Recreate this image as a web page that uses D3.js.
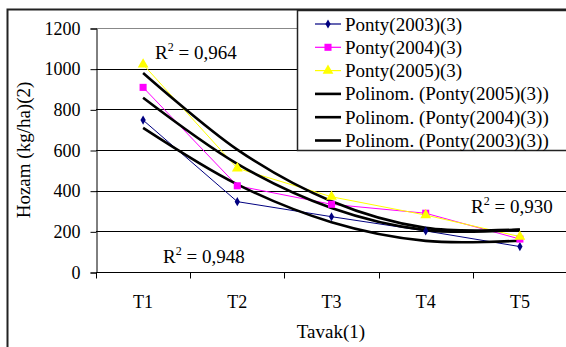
<!DOCTYPE html>
<html>
<head>
<meta charset="utf-8">
<script src="https://cdn.jsdelivr.net/npm/d3@7"></script>
<style>
  body { margin: 0; background: #fff; }
  svg { display: block; font-family: "Liberation Serif", "Times New Roman", serif; }
</style>
</head>
<body>
<svg id="chart"></svg>
<script>
let categories = ['T1', 'T2', 'T3', 'T4', 'T5'];
let yTicks = [0, 200, 400, 600, 800, 1000, 1200];

let ponty2003 = [747, 346, 272, 202, 125];
let ponty2004 = [908, 424, 333, 289, 162];
let ponty2005 = [1021, 510, 370, 280, 174];

// trendline values read at each category
let trend2005 = [979, 602, 348, 217, 209];
let trend2004 = [857, 532, 315, 206, 207];
let trend2003 = [709, 431, 245, 153, 154];

let legendNames = ['Ponty(2003)(3)', 'Ponty(2004)(3)', 'Ponty(2005)(3)',
    'Polinom. (Ponty(2005)(3))', 'Polinom. (Ponty(2004)(3))', 'Polinom. (Ponty(2003)(3))'];

let width = 566;
let height = 347;
let plotLeft = 96, plotRight = 567, plotTop = 28, plotBottom = 272;

let svg = d3.select('#chart').attr('width', width).attr('height', height);

let xScale = d3.scaleBand().domain(categories).range([plotLeft, plotRight]);
let yScale = d3.scaleLinear().domain([0, 1200]).range([plotBottom, plotTop]);
let cx = (c) => xScale(c) + xScale.bandwidth() / 2;

// outer chart border
svg.append('path')
    .attr('d', 'M7.5,' + height + 'V9.5H' + (width + 5))
    .attr('fill', 'none').attr('stroke', '#222').attr('stroke-width', 2);

// gridlines
svg.append('g').selectAll('line')
    .data(yTicks.filter(d => d > 0))
    .enter().append('line')
    .attr('x1', plotLeft).attr('x2', plotRight)
    .attr('y1', d => Math.round(yScale(d)) + 0.5)
    .attr('y2', d => Math.round(yScale(d)) + 0.5)
    .attr('stroke', d => d == 1200 ? '#888' : '#000')
    .attr('stroke-width', 1);

// y axis
let yAxis = d3.axisLeft(yScale).tickValues(yTicks).tickFormat(d3.format('d'))
    .tickSize(6).tickPadding(10);
let gy = svg.append('g')
    .attr('transform', 'translate(' + (plotLeft + 0.5) + ',0.5)')
    .call(yAxis);
gy.attr('font-family', null).attr('font-size', null);
gy.selectAll('text').attr('font-size', 18).attr('fill', '#000');
gy.selectAll('line, path').attr('stroke', '#000');

// x axis
let gx = svg.append('g')
    .attr('transform', 'translate(0,' + (plotBottom + 0.5) + ')');
gx.append('line').attr('x1', plotLeft).attr('x2', plotRight).attr('stroke', '#000');
gx.selectAll('.tk')
    .data(categories.concat(['end']))
    .enter().append('line')
    .attr('x1', (d, i) => Math.round(plotLeft + i * xScale.bandwidth()) + 0.5)
    .attr('x2', (d, i) => Math.round(plotLeft + i * xScale.bandwidth()) + 0.5)
    .attr('y1', 0).attr('y2', 6).attr('stroke', '#000');
gx.selectAll('text')
    .data(categories)
    .enter().append('text')
    .attr('x', d => cx(d)).attr('y', 35)
    .attr('text-anchor', 'middle').attr('font-size', 18)
    .text(d => d);

// axis titles
svg.append('text')
    .attr('x', 331).attr('y', 338)
    .attr('text-anchor', 'middle').attr('font-size', 19)
    .text('Tavak(1)');
svg.append('text')
    .attr('transform', 'translate(30,150) rotate(-90)')
    .attr('text-anchor', 'middle').attr('font-size', 19)
    .text('Hozam (kg/ha)(2)');

let line = d3.line().x((d, i) => cx(categories[i])).y(d => yScale(d));
let trendLine = d3.line().x((d, i) => cx(categories[i])).y(d => yScale(d))
    .curve(d3.curveCardinal.tension(0));

let series = [
    { values: ponty2003, color: '#000080', symbol: d3.symbolDiamond, size: 24 },
    { values: ponty2004, color: '#FF00FF', symbol: d3.symbolSquare, size: 50 },
    { values: ponty2005, color: '#FFFF00', symbol: d3.symbolTriangle, size: 50 }
];

series.forEach(s => {
    svg.append('path')
        .datum(s.values)
        .attr('d', line)
        .attr('fill', 'none').attr('stroke', s.color).attr('stroke-width', 1);
});

[trend2005, trend2004, trend2003].forEach(t => {
    svg.append('path')
        .datum(t)
        .attr('d', trendLine)
        .attr('fill', 'none').attr('stroke', '#000').attr('stroke-width', 2.6);
});

series.forEach(s => {
    svg.append('g').selectAll('path')
        .data(s.values)
        .enter().append('path')
        .attr('d', d3.symbol().type(s.symbol).size(s.size))
        .attr('transform', (d, i) => 'translate(' + cx(categories[i]) + ',' + yScale(d) + ')')
        .attr('fill', s.color);
});

// R squared labels
let r2 = [
    { x: 155, y: 59, v: '0,964' },
    { x: 163, y: 263, v: '0,948' },
    { x: 471, y: 213, v: '0,930' }
];
r2.forEach(r => {
    let t = svg.append('text').attr('x', r.x).attr('y', r.y).attr('font-size', 19);
    t.append('tspan').text('R');
    t.append('tspan').attr('dy', -8).attr('font-size', 12).text('2');
    t.append('tspan').attr('dy', 8).text(' = ' + r.v);
});

// legend
let lg = svg.append('g');
lg.append('rect')
    .attr('x', 297.5).attr('y', 10.5).attr('width', 300).attr('height', 140)
    .attr('fill', '#fff').attr('stroke', '#222').attr('stroke-width', 1.5);
let legendItems = lg.selectAll('g')
    .data(legendNames)
    .enter().append('g')
    .attr('transform', (d, i) => 'translate(0,' + (24 + i * 23.3) + ')');
legendItems.append('line')
    .attr('x1', 315).attr('x2', 341).attr('y1', 0).attr('y2', 0)
    .attr('stroke', (d, i) => i < 3 ? series[i].color : '#000')
    .attr('stroke-width', (d, i) => i < 3 ? 1.2 : 2.6);
legendItems.filter((d, i) => i < 3).append('path')
    .attr('d', (d, i) => d3.symbol().type(series[i].symbol).size(series[i].size)())
    .attr('transform', 'translate(328,0)')
    .attr('fill', (d, i) => series[i].color);
legendItems.append('text')
    .attr('x', 345).attr('y', 6.5)
    .attr('font-size', 19)
    .text(d => d);
</script>
</body>
</html>
